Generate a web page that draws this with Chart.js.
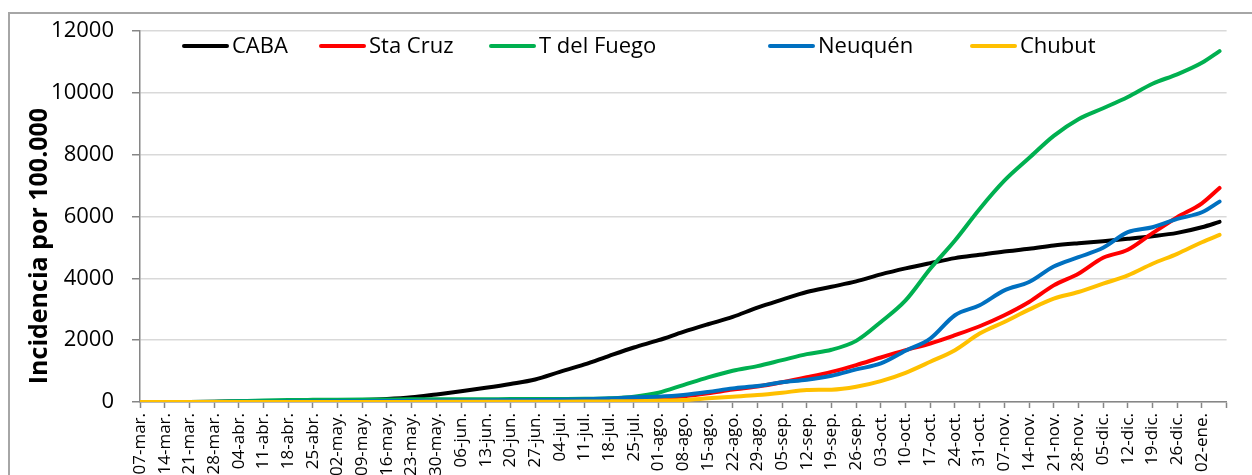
<!DOCTYPE html>
<html>
<head>
<meta charset="utf-8">
<script src="https://cdn.jsdelivr.net/npm/chart.js"></script>
<style>
  html, body { margin: 0; padding: 0; background: #fff; overflow: hidden; }
  #frame { position: absolute; left: 8px; top: 12px; width: 1300px; height: 520px; border: 2px solid #a6a6a6; }
  #wrap { position: absolute; left: 0; top: 0; width: 1252px; height: 475px; }
</style>
</head>
<body>
<div id="frame"></div>
<div id="wrap"><canvas id="chart"></canvas></div>
<script>
// days since 07-mar (weekly readings + last day)
const days = [0, 7, 14, 21, 28, 35, 42, 49, 56, 63, 70, 77, 84, 91, 98, 105, 112, 119, 126, 133, 140, 147,
  154, 161, 168, 175, 182, 189, 196, 203, 210, 217, 224, 231, 238, 245, 252, 259, 266, 273, 280, 287, 294, 301, 306];

const tickLabels = ['07-mar.', '14-mar.', '21-mar.', '28-mar.', '04-abr.', '11-abr.', '18-abr.', '25-abr.',
  '02-may.', '09-may.', '16-may.', '23-may.', '30-may.', '06-jun.', '13-jun.', '20-jun.', '27-jun.',
  '04-jul.', '11-jul.', '18-jul.', '25-jul.', '01-ago.', '08-ago.', '15-ago.', '22-ago.', '29-ago.',
  '05-sep.', '12-sep.', '19-sep.', '26-sep.', '03-oct.', '10-oct.', '17-oct.', '24-oct.', '31-oct.',
  '07-nov.', '14-nov.', '21-nov.', '28-nov.', '05-dic.', '12-dic.', '19-dic.', '26-dic.', '02-ene.'];

const caba = [0, 1, 4, 10, 18, 26, 34, 42, 52, 66, 95, 150, 245, 345, 460, 585, 730, 975, 1215, 1495, 1764, 2000,
  2269, 2516, 2753, 3054, 3312, 3559, 3730, 3903, 4129, 4323, 4494, 4656, 4764, 4871, 4958, 5065, 5140, 5204,
  5280, 5365, 5474, 5655, 5829];
const staCruz = [0, 0, 0, 1, 2, 3, 4, 5, 6, 7, 8, 9, 10, 12, 15, 18, 22, 28, 38, 55, 75, 120,
  180, 280, 400, 500, 640, 800, 975, 1194, 1441, 1677, 1893, 2161, 2452, 2807, 3237, 3774, 4151, 4667,
  4925, 5463, 5979, 6431, 6926];
const tdelFuego = [0, 0, 3, 12, 30, 48, 62, 70, 76, 80, 83, 86, 88, 90, 92, 94, 96, 98, 102, 120, 172, 301,
  548, 796, 1010, 1161, 1355, 1548, 1690, 1978, 2591, 3290, 4312, 5226, 6248, 7162, 7894, 8613, 9152, 9507,
  9872, 10301, 10604, 10978, 11355];
const neuquen = [0, 0, 1, 3, 6, 10, 14, 18, 22, 26, 30, 35, 40, 45, 50, 56, 62, 70, 85, 110, 150, 172,
  226, 323, 441, 516, 640, 720, 850, 1054, 1248, 1660, 2054, 2807, 3129, 3613, 3882, 4387, 4688, 4990,
  5495, 5656, 5925, 6140, 6484];
const chubut = [0, 0, 0, 0, 1, 1, 2, 2, 3, 3, 4, 4, 5, 6, 7, 8, 10, 12, 15, 20, 28, 43,
  65, 118, 172, 226, 301, 387, 400, 495, 677, 946, 1301, 1677, 2215, 2591, 2990, 3344, 3559, 3829,
  4097, 4474, 4796, 5171, 5409];

const font = 'Open Sans';
const legendX = [182, 319, 489, 768, 970];

function series(label, values, color, order) {
  return {
    label,
    data: days.map((d, i) => ({ x: d, y: values[i] })),
    borderColor: color,
    backgroundColor: color,
    borderWidth: 4,
    borderCapStyle: 'round',
    pointRadius: 0,
    cubicInterpolationMode: 'monotone',
    order
  };
}

// Excel-like legend drawn in one row inside the plot, plus the axis title
const decor = {
  id: 'decor',
  afterDraw(chart) {
    const ctx = chart.ctx;
    ctx.save();
    ctx.font = `22px "${font}"`;
    ctx.textBaseline = 'middle';
    chart.data.datasets.forEach((ds, i) => {
      const x = legendX[i], y = 46;
      ctx.strokeStyle = ds.borderColor;
      ctx.lineWidth = 4;
      ctx.lineCap = 'round';
      ctx.beginPath();
      ctx.moveTo(x + 2, y);
      ctx.lineTo(x + 45, y);
      ctx.stroke();
      ctx.fillStyle = '#000';
      ctx.fillText(ds.label, x + 50, y + 1);
    });
    ctx.translate(40, 246);
    ctx.rotate(-Math.PI / 2);
    ctx.textAlign = 'center';
    ctx.font = `bold 25px "${font}"`;
    ctx.fillText('Incidencia por 100.000', 0, 0);
    ctx.restore();
  }
};

new Chart(document.getElementById('chart'), {
  type: 'line',
  data: {
    datasets: [
      series('CABA', caba, '#000000', 5),
      series('Sta Cruz', staCruz, '#ff0000', 4),
      series('T del Fuego', tdelFuego, '#00b050', 3),
      series('Neuquén', neuquen, '#0070c0', 2),
      series('Chubut', chubut, '#ffc000', 1)
    ]
  },
  options: {
    responsive: true,
    maintainAspectRatio: false,
    animation: false,
    layout: { padding: { top: 30, right: 16, bottom: 0, left: 0 } },
    plugins: {
      tooltip: { enabled: false },
      legend: { display: false }
    },
    scales: {
      x: {
        type: 'linear',
        min: 0,
        max: 308,
        afterFit: s => { s.height = 73; },
        border: { color: '#868686', width: 1.5 },
        grid: { drawOnChartArea: false, tickLength: 6, tickColor: '#868686', tickWidth: 1.5 },
        ticks: {
          stepSize: 7,
          autoSkip: false,
          maxRotation: 90,
          minRotation: 90,
          padding: 5,
          color: '#000',
          font: { family: font, size: 17 },
          callback: v => tickLabels[v / 7] || ''
        }
      },
      y: {
        min: 0,
        max: 12000,
        afterFit: s => { s.width = 140; },
        border: { color: '#868686', width: 1.5 },
        grid: { color: '#d9d9d9', lineWidth: 1.5, tickLength: 8, tickColor: '#868686' },
        ticks: {
          stepSize: 2000,
          padding: 18,
          color: '#000',
          font: { family: font, size: 22 },
          callback: v => String(v)
        }
      }
    }
  },
  plugins: [decor]
});
</script>
</body>
</html>
